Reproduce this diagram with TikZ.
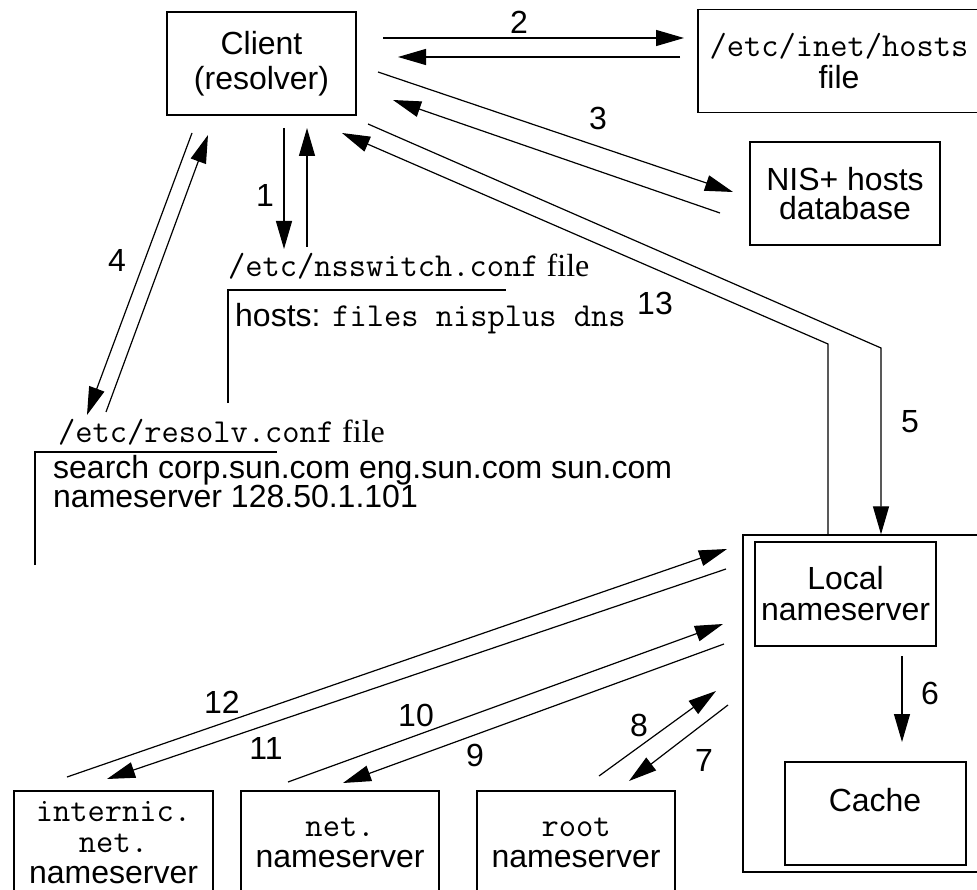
\documentclass[tikz,border=0pt]{standalone}
\usepackage{fontspec}
\setmainfont{Liberation Sans}
\newfontfamily\timesfont{Liberation Serif}
\usetikzlibrary{arrows.meta}
\newcommand{\nsmono}[1]{{\fontsize{33.5}{32}\selectfont\ttfamily #1}}
\newcommand{\nsserif}[1]{{\fontsize{32}{32}\selectfont\timesfont #1}}

\tikzset{
  nsbox/.style={draw, line width=1.3pt, inner sep=0pt, align=center},
  flow/.style={line width=1.2pt, -{Triangle[length=28pt,width=16pt]}},
  plain/.style={line width=1.2pt},
  steplabel/.style={inner sep=0pt},
  filetext/.style={anchor=base west, inner sep=0pt}
}

\begin{document}
\begin{tikzpicture}[x=1pt, y=-1pt, font=\fontsize{32}{32}\selectfont]
\clip (0,0) rectangle (977,890);

% boxes
\node[nsbox, minimum width=189pt, minimum height=103pt] (client) at (261.5,63.5) {Client\\[3pt](resolver)};
\node[nsbox, minimum width=282pt, minimum height=103pt] (hosts) at (839,61) {\nsmono{/etc/inet/hosts}\\[0pt]file};
\node[nsbox, minimum width=190pt, minimum height=103pt] (nis) at (845,193.5) {NIS+ hosts\\[-3pt]database};
\node[nsbox, minimum width=250pt, minimum height=337pt] (server) at (868,703.5) {};
\node[nsbox, minimum width=181pt, minimum height=104pt] (local) at (845.5,594) {Local\\[-1pt]nameserver};
\node[nsbox, minimum width=181pt, minimum height=103pt] (cache) at (875.5,813.5) {};
\node[steplabel] (cachetext) at (875,800) {Cache};
\node[nsbox, minimum width=199pt, minimum height=104pt] (internic) at (113.5,843) {\nsmono{internic.}\\[-1pt]\nsmono{net.}\\[-1pt]nameserver};
\node[nsbox, minimum width=198pt, minimum height=104pt] (netns) at (340,843) {\nsmono{net.}\\[-1pt]nameserver};
\node[nsbox, minimum width=198pt, minimum height=104pt] (rootns) at (576,843) {\nsmono{root}\\[-1pt]nameserver};

% configuration files
\node[filetext] (nsswitch) at (228,277) {\nsmono{/etc/nsswitch.conf}\nsserif{ file}};
\node[filetext] (hostsline) at (235,327) {hosts: \nsmono{files nisplus dns}};
\draw[plain] (228,403) |- (506,290);
\node[filetext] (resolv) at (58,442) {\nsmono{/etc/resolv.conf}\nsserif{ file}};
\node[filetext] (search) at (53,478) {search corp.sun.com eng.sun.com sun.com};
\node[filetext] (nsaddr) at (53,507) {nameserver 128.50.1.101};
\draw[plain] (35,565) |- (277,452);

% arrow ends
\coordinate (a1s) at (284,128);  \coordinate (a1e) at (284,249);
\coordinate (b1s) at (307,247);  \coordinate (b1e) at (307,128);
\coordinate (a2s) at (383,38);   \coordinate (a2e) at (684,38);
\coordinate (b2s) at (680,57);   \coordinate (b2e) at (398,57);
\coordinate (a3s) at (378,72);   \coordinate (a3e) at (733,192);
\coordinate (b3s) at (720,213);  \coordinate (b3e) at (393,100);
\coordinate (a4s) at (192,133);  \coordinate (a4e) at (87,415);
\coordinate (b4s) at (106,412);  \coordinate (b4e) at (208,135);
\coordinate (a5s) at (368,124);  \coordinate (a5k) at (881,348);
\coordinate (a13k) at (828,344); \coordinate (a13e) at (342,133);
\coordinate (a6s) at (902,656);  \coordinate (a6e) at (902,742);
\coordinate (a7s) at (728,705);  \coordinate (a7e) at (629,781);
\coordinate (a8s) at (599,776);  \coordinate (a8e) at (716,691);
\coordinate (a9s) at (724,644);  \coordinate (a9e) at (343,783);
\coordinate (a10s) at (288,782); \coordinate (a10e) at (723,624);
\coordinate (a11s) at (726,569); \coordinate (a11e) at (107,779);
\coordinate (a12s) at (67,777);  \coordinate (a12e) at (727,549);

% arrows
\draw[flow] (a1s) -- (a1e);
\draw[flow] (b1s) -- (b1e);
\draw[flow] (a2s) -- (a2e);
\draw[flow] (b2s) -- (b2e);
\draw[flow] (a3s) -- (a3e);
\draw[flow] (b3s) -- (b3e);
\draw[flow] (a4s) -- (a4e);
\draw[flow] (b4s) -- (b4e);
\draw[flow] (a5s) -- (a5k) -- (a5k |- server.north);
\draw[flow] (a13k |- server.north) -- (a13k) -- (a13e);
\draw[flow] (a6s) -- (a6e);
\draw[flow] (a7s) -- (a7e);
\draw[flow] (a8s) -- (a8e);
\draw[flow] (a9s) -- (a9e);
\draw[flow] (a10s) -- (a10e);
\draw[flow] (a11s) -- (a11e);
\draw[flow] (a12s) -- (a12e);

% step numbers
\node[steplabel] (n1) at (265,195) {1};
\node[steplabel] (n2) at (519,22) {2};
\node[steplabel] (n3) at (598,118) {3};
\node[steplabel] (n4) at (117,260) {4};
\node[steplabel] (n5) at (910,422) {5};
\node[steplabel] (n6) at (930,693) {6};
\node[steplabel] (n7) at (704,760) {7};
\node[steplabel] (n8) at (639,725) {8};
\node[steplabel] (n9) at (475,755) {9};
\node[steplabel] (n10) at (416,715) {10};
\node[steplabel] (n11) at (266,748) {11};
\node[steplabel] (n12) at (222,702) {12};
\node[steplabel] (n13) at (655,303) {13};
\end{tikzpicture}
\end{document}
